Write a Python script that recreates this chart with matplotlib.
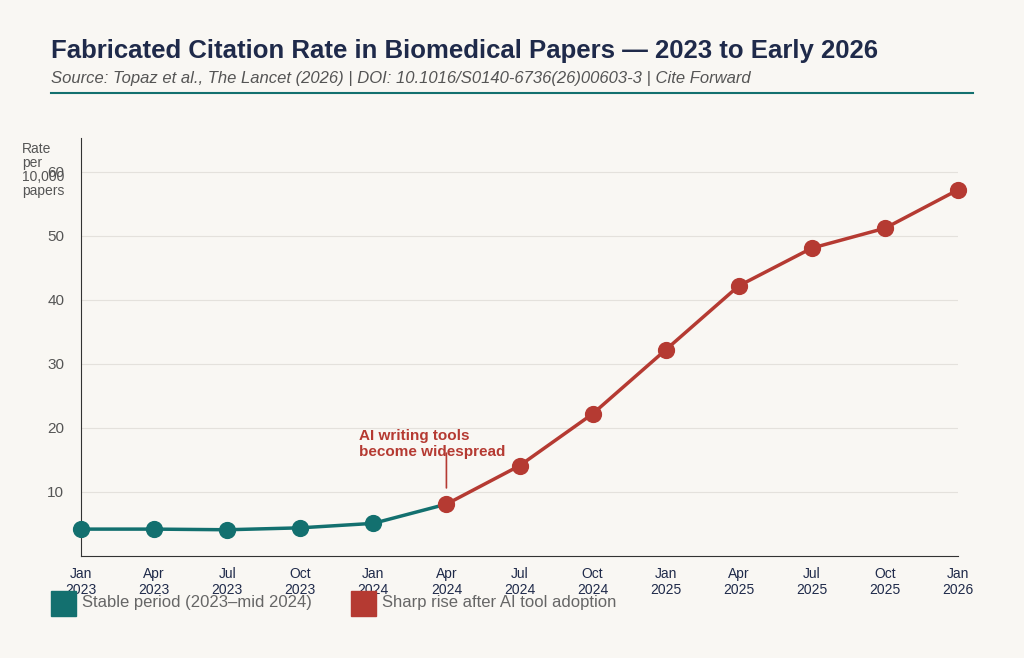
import matplotlib.pyplot as plt
from matplotlib.patches import Rectangle

plt.rcParams["font.family"] = ["Liberation Sans", "DejaVu Sans"]

months = ["Jan\n2023", "Apr\n2023", "Jul\n2023", "Oct\n2023", "Jan\n2024", "Apr\n2024",
          "Jul\n2024", "Oct\n2024", "Jan\n2025", "Apr\n2025", "Jul\n2025", "Oct\n2025", "Jan\n2026"]
rates = [4.2, 4.2, 4.1, 4.4, 5.1, 8.1, 14.1, 22.2, 32.2, 42.2, 48.1, 51.2, 57.2]
split = 5  # Apr 2024: start of the red segment

teal = "#13706f"
red = "#b53a32"
navy = "#1f2a4a"
bg = "#f9f7f3"

fig = plt.figure(figsize=(10.24, 6.58), dpi=100, facecolor=bg)
ax = fig.add_axes([81/1024, 1 - 556/658, (958-81)/1024, (556-138)/658], facecolor=bg)

x = list(range(len(months)))
ax.plot(x[:split + 1], rates[:split + 1], color=teal, lw=2.5, zorder=2)
ax.plot(x[split:], rates[split:], color=red, lw=2.5, zorder=2)
ax.scatter(x[:split], rates[:split], s=130, color=teal, zorder=3, clip_on=False)
ax.scatter(x[split:], rates[split:], s=130, color=red, zorder=3, clip_on=False)

ax.set_xlim(0, len(months) - 1)
ax.set_ylim(0, 65.3)
ax.set_yticks([10, 20, 30, 40, 50, 60])
ax.set_xticks(x)
ax.set_xticklabels(months, color=navy, fontsize=10)
ax.tick_params(axis="y", colors="#555555", labelsize=11, length=0, pad=12)
ax.tick_params(axis="x", length=0, pad=8)
ax.grid(axis="y", color="#e4e1dc", lw=0.8)
ax.set_axisbelow(True)
for s in ["top", "right"]:
    ax.spines[s].set_visible(False)
for s in ["left", "bottom"]:
    ax.spines[s].set_color("#333333")

ax.annotate("", xy=(split, 10.2), xytext=(split, 16.5),
            arrowprops=dict(arrowstyle="-", color=red, lw=1.2))
ax.text(3.8, 17.5, "AI writing tools\nbecome widespread", color=red,
        fontsize=11, fontweight="bold", ha="left", va="center", linespacing=1.1)

fig.text(22/1024, 1 - 170/658, "Rate\nper\n10,000\npapers", fontsize=10, color="#555555",
         ha="left", va="center", linespacing=1.0)

fig.text(51/1024, 1 - 51/658, "Fabricated Citation Rate in Biomedical Papers \u2014 2023 to Early 2026",
         fontsize=18.5, fontweight="bold", color=navy, va="center")
fig.text(51/1024, 1 - 79/658,
         "Source: Topaz et al., The Lancet (2026) | DOI: 10.1016/S0140-6736(26)00603-3 | Cite Forward",
         fontsize=12, style="italic", color="#555555", va="center")
fig.add_artist(plt.Line2D([51/1024, 973/1024], [1 - 93/658] * 2, color=teal, lw=1.5))

fig.add_artist(Rectangle((51/1024, 1 - 616/658), 25/1024, 25/658, color=teal))
fig.text(82/1024, 1 - 603/658, "Stable period (2023\u2013mid 2024)", fontsize=12,
         color="#666666", va="center")
fig.add_artist(Rectangle((351/1024, 1 - 616/658), 25/1024, 25/658, color=red))
fig.text(382/1024, 1 - 603/658, "Sharp rise after AI tool adoption", fontsize=12,
         color="#666666", va="center")

fig.savefig("out.png", dpi=100, facecolor=bg)
